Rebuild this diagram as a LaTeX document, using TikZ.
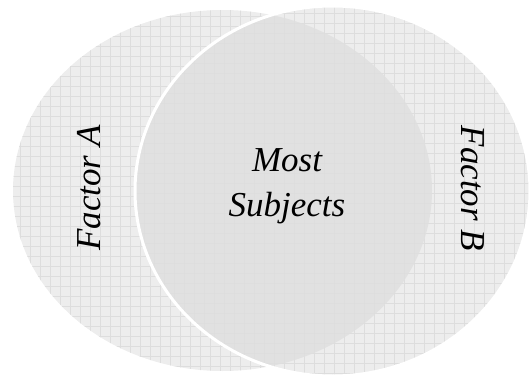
\documentclass[tikz,border=0pt]{standalone}
\usepackage{fontspec}
\setmainfont{Liberation Serif}
\usepackage{xcolor}
\definecolor{vennfill}{HTML}{EDEDED}
\definecolor{venndark}{HTML}{E1E1E1}
\definecolor{venngrid}{HTML}{DDDDDD}

\tikzset{
  gridline/.style={venngrid, line width=0.7pt},
  factorlabel/.style={font=\fontsize{35}{45}\selectfont\itshape, inner sep=0pt},
}

% the two sets
\def\leftset{(222.5,185.5) ellipse [x radius=209.5, y radius=180.5]}
\def\rightset{(332.5,185) ellipse [x radius=197.5, y radius=185]}

\begin{document}
\begin{tikzpicture}[x=1pt,y=1pt]
    \useasboundingbox (0,0) rectangle (530,376);
    % set A
    \fill[vennfill] \leftset;
    \begin{scope}
        \clip \leftset;
        \foreach \g in {0,10,...,530} \draw[gridline] (\g,0) -- (\g,376);
        \foreach \g in {0,10,...,380} \draw[gridline] (0,\g) -- (530,\g);
    \end{scope}
    % set B
    \fill[vennfill] \rightset;
    \begin{scope}
        \clip \rightset;
        \foreach \g in {4,14,...,530} \draw[gridline] (\g,0) -- (\g,376);
        \foreach \g in {3,13,...,380} \draw[gridline] (0,\g) -- (530,\g);
    \end{scope}
    % overlap
    \begin{scope}
        \clip \leftset;
        \fill[venndark] \rightset;
        \clip \rightset;
        \foreach \g in {4,14,...,530} \draw[gridline, opacity=.5] (\g,0) -- (\g,376);
        \foreach \g in {3,13,...,380} \draw[gridline, opacity=.5] (0,\g) -- (530,\g);
    \end{scope}
    \draw[white, line width=3pt] \rightset;
    % labels
    \node[factorlabel, rotate=90] (factorA) at (89,188) {Factor A};
    \node[factorlabel, rotate=-90] (factorB) at (473,187.5) {Factor B};
    \node[factorlabel, align=center] (most) at (287,190) {Most\\Subjects};
\end{tikzpicture}
\end{document}
